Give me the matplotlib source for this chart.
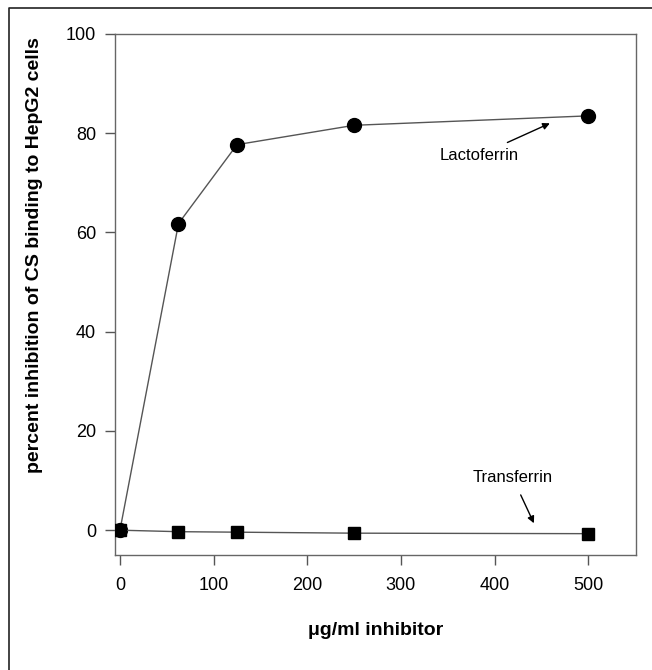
import matplotlib
matplotlib.use("Agg")
import matplotlib.pyplot as plt
from matplotlib.lines import Line2D

plt.rcParams['font.family'] = ['Liberation Sans', 'DejaVu Sans']

# data
conc = [0, 62.5, 125, 250, 500]
lactoferrin = [0, 61.8, 77.7, 81.6, 83.5]
transferrin = [0, -0.3, -0.4, -0.6, -0.7]
xticks = [0, 100, 200, 300, 400, 500]
yticks = [0, 20, 40, 60, 80, 100]

W, H = 652, 670
fig = plt.figure(figsize=(W / 100, H / 100), dpi=100)
ax = fig.add_axes([115 / W, 1 - 555 / H, 521 / W, 521 / H])

ax.plot(conc, lactoferrin, color='#555555', lw=1, marker='o', ms=10,
        mfc='black', mec='black', zorder=3)
ax.plot(conc, transferrin, color='#555555', lw=1, marker='s', ms=9,
        mfc='black', mec='black', zorder=3)

ax.set_xlim(-5.3, 551)
ax.set_ylim(-5, 100)
ax.set_xticks(xticks)
ax.set_yticks(yticks)
ax.tick_params(direction='out', length=7, width=1, color='#555555',
               labelsize=13, pad=6.5)
ax.tick_params(axis='x', pad=8.5)
for s in ax.spines.values():
    s.set_color('#666666')
    s.set_linewidth(1)

ax.set_xlabel('\u03bcg/ml inhibitor', fontsize=14, fontweight='bold', va='center')
ax.xaxis.set_label_coords(0.5, -0.144)
ax.set_ylabel('percent inhibition of CS binding to HepG2 cells', fontsize=14,
              fontweight='bold', va='center')
ax.yaxis.set_label_coords(-0.154, 0.575)

ax.annotate('Lactoferrin', xy=(459, 82), xytext=(384, 75.6),
            ha='center', va='center', fontsize=12,
            arrowprops=dict(arrowstyle='-|>', color='black', lw=1,
                            shrinkA=4, shrinkB=0, mutation_scale=10))
ax.annotate('Transferrin', xy=(442, 1.4), xytext=(419, 10.7),
            ha='center', va='center', fontsize=12,
            arrowprops=dict(arrowstyle='-|>', color='black', lw=1,
                            shrinkA=6, shrinkB=0, mutation_scale=10))

# scan frame: only the left and top edges are visible
fig.lines.append(Line2D([9 / W, 9 / W, 1], [0, 1 - 8 / H, 1 - 8 / H],
                        transform=fig.transFigure, color='#222222', lw=1.2))

fig.savefig('out.png', dpi=100)
